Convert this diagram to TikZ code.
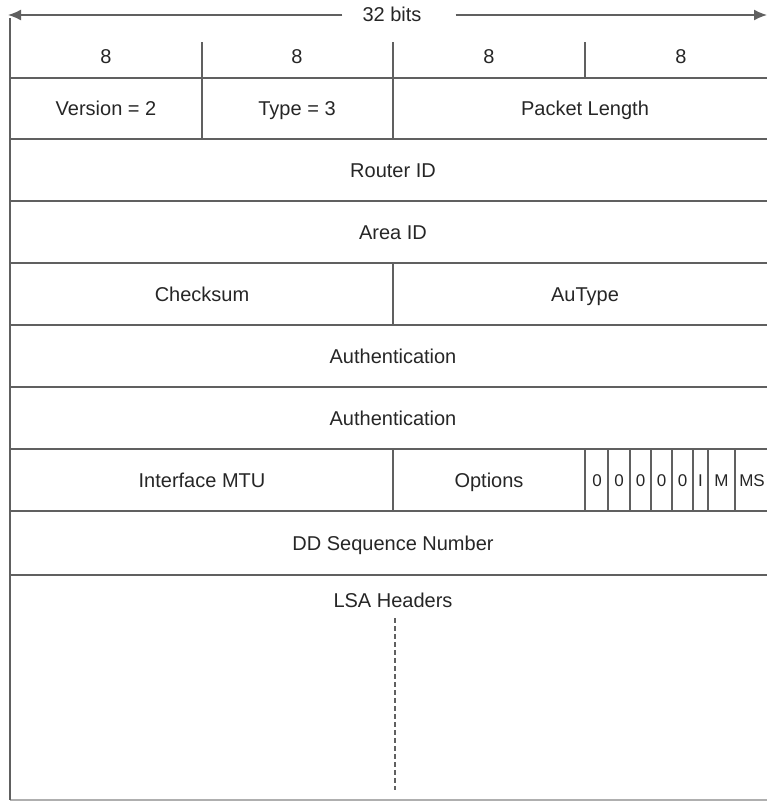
\documentclass[tikz,border=0pt]{standalone}
\usepackage{fontspec}
\setmainfont{Liberation Sans}
\usetikzlibrary{arrows.meta,positioning}
\definecolor{rulegray}{HTML}{606060}
\definecolor{textgray}{HTML}{262626}

\begin{document}
\begin{tikzpicture}[x=1pt,y=-1pt,
    rule/.style={rulegray,line width=1.8pt},
    lbl/.style={text=textgray,font=\fontsize{20}{24}\selectfont,inner sep=0pt,text height=15pt,text depth=1pt},
    bitlbl/.style={text=textgray,font=\fontsize{17}{20}\selectfont,inner sep=0pt,text height=12.5pt,text depth=0pt}]
  \useasboundingbox (0,0) rectangle (767,801);
  \clip (0,0) rectangle (767,801);
  % Width header
  \node[lbl] (width) at (392,14) {32 bits};
  \coordinate (wl) at (8,15);
  \coordinate (wr) at (767,15);
  \draw[rule,line width=1.5pt,-{Latex[length=13pt,width=11pt]},shorten <=20pt] (width.west |- wl) -- (wl);
  \draw[rule,line width=1.5pt,-{Latex[length=13pt,width=11pt]},shorten <=34pt] (width.east |- wr) -- (wr);
  % Byte ticks
  \node[lbl] (byteA) at (106,56) {8};
  \node[lbl] (byteB) at (297,56) {8};
  \node[lbl] (byteC) at (489,56) {8};
  \node[lbl] (byteD) at (681,56) {8};
  \foreach \x in {202,393,585} \draw[rule] (\x,42) -- (\x,78);
  % Row lines
  \foreach \y in {78,139,201,263,325,387,449,511,575} \draw[rule] (10,\y) -- (777,\y);
  \draw[rule,rulegray!50] (10,800) -- (777,800);
  \draw[rule] (10,18) -- (10,800);
  \draw[rule] (777,78) -- (777,800);
  % Field splits
  \draw[rule] (202,78) -- (202,139);
  \draw[rule] (393,78) -- (393,139);
  \draw[rule] (393,263) -- (393,325);
  \draw[rule] (393,449) -- (393,511);
  \foreach \x in {608,630,651,672,693,708,735} \draw[rule,line width=1.4pt] (\x,449) -- (\x,511);
  \draw[rule] (585,449) -- (585,511);
  % Fields
  \node[lbl] (version) at (106,108.5) {Version = 2};
  \node[lbl] (type) at (297,108.5) {Type = 3};
  \node[lbl] (pktlen) at (585,108.5) {Packet Length};
  \node[lbl] (router) at (393,170) {Router ID};
  \node[lbl] (area) at (393,232) {Area ID};
  \node[lbl] (checksum) at (202,294) {Checksum};
  \node[lbl] (autype) at (585,294) {AuType};
  \node[lbl] (authA) at (393,356) {Authentication};
  \node[lbl] (authB) at (393,418) {Authentication};
  \node[lbl] (mtu) at (202,480) {Interface MTU};
  \node[lbl] (options) at (489,480) {Options};
  % Option bits
  \node[bitlbl] (bitA) at (597,480) {0};
  \node[bitlbl] (bitB) at (619,480) {0};
  \node[bitlbl] (bitC) at (640.5,480) {0};
  \node[bitlbl] (bitD) at (661.5,480) {0};
  \node[bitlbl] (bitE) at (682.5,480) {0};
  \node[bitlbl] (bitI) at (700.5,480) {I};
  \node[bitlbl] (bitM) at (721.5,480) {M};
  \node[bitlbl] (bitMS) at (752,480) {MS};
  \node[lbl] (ddseq) at (393,543) {DD Sequence Number};
  % LSA headers
  \node[lbl] (lsa) at (393,600) {LSA Headers};
  \coordinate (lsaend) at (395,790);
  \draw[rulegray,line width=1.5pt,dash pattern=on 5pt off 3pt] (lsa.south -| lsaend) ++(0,10) -- (lsaend);
\end{tikzpicture}
\end{document}
